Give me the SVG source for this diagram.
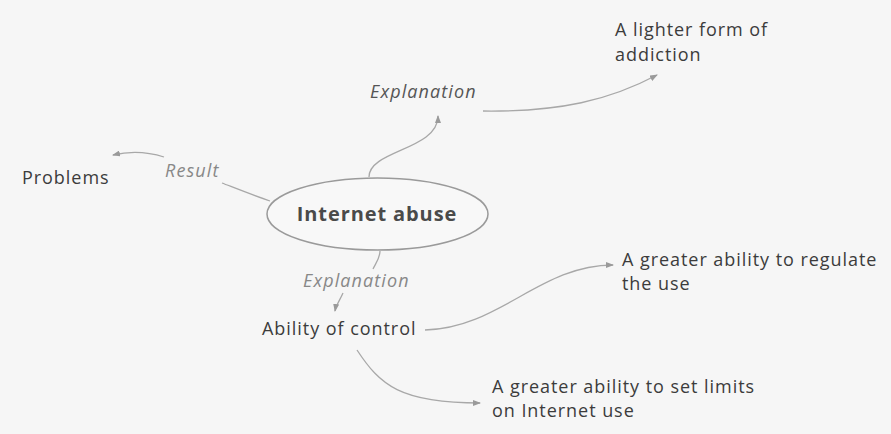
<svg xmlns="http://www.w3.org/2000/svg" width="891" height="434" viewBox="0 0 891 434">
<defs>
<marker id="arr" viewBox="0 0 8 6" refX="7" refY="3" markerWidth="8" markerHeight="6" markerUnits="userSpaceOnUse" orient="auto">
<path d="M0,0 L8,3 L0,6 z" fill="#9a9a9a"/>
</marker>
<style>
.t{font-family:"Open Sans","Liberation Sans",sans-serif;font-size:18px;letter-spacing:0.95px;fill:#3c3c3c}
.lab{font-family:"Open Sans","Liberation Sans",sans-serif;font-size:18px;letter-spacing:1.1px;font-style:italic}
.c{fill:none;stroke:#a8a8a8;stroke-width:1.3}
</style>
</defs>
<rect width="891" height="434" fill="#f6f6f6"/>
<g id="connectors">
<path class="c" d="M369,177 C369,150 438,150 438,116" marker-end="url(#arr)"/>
<path class="c" d="M483,111 C560,112 610,100 657,75" marker-end="url(#arr)"/>
<path class="c" d="M270,201 C255,196 235,188 222,183"/>
<path class="c" d="M164,157 C145,151 130,151 113,155" marker-end="url(#arr)"/>
<path class="c" d="M380,251 C380,258 376,263 373,269"/>
<path class="c" d="M343,293 C340,300 336,305 335,311" marker-end="url(#arr)"/>
<path class="c" d="M425,330 C500,328 540,265 613,265" marker-end="url(#arr)"/>
<path class="c" d="M357,350 C380,385 400,403 480,403" marker-end="url(#arr)"/>
</g>
<g id="internet-abuse">
<ellipse cx="377.5" cy="214" rx="110.5" ry="36" fill="#f8f8f8" stroke="#9a9a9a" stroke-width="1.5"/>
<text x="377" y="221" text-anchor="middle" font-family="'Open Sans','Liberation Sans',sans-serif" font-size="20" letter-spacing="0.9" font-weight="bold" fill="#4a4a4a">Internet abuse</text>
</g>
<g id="label-explanation-top"><text class="lab" x="370" y="98" fill="#555">Explanation</text></g>
<g id="lighter-form"><text class="t" x="615" y="36">A lighter form of</text><text class="t" x="615" y="61">addiction</text></g>
<g id="label-result"><text class="lab" x="165" y="177" fill="#888">Result</text></g>
<g id="problems"><text class="t" x="22" y="184" letter-spacing="0.75">Problems</text></g>
<g id="label-explanation-bottom"><text class="lab" x="303" y="287" fill="#888">Explanation</text></g>
<g id="ability-of-control"><text class="t" x="262" y="335">Ability of control</text></g>
<g id="regulate"><text class="t" x="622" y="266">A greater ability to regulate</text><text class="t" x="622" y="290">the use</text></g>
<g id="set-limits"><text class="t" x="492" y="393">A greater ability to set limits</text><text class="t" x="492" y="417">on Internet use</text></g>
</svg>
